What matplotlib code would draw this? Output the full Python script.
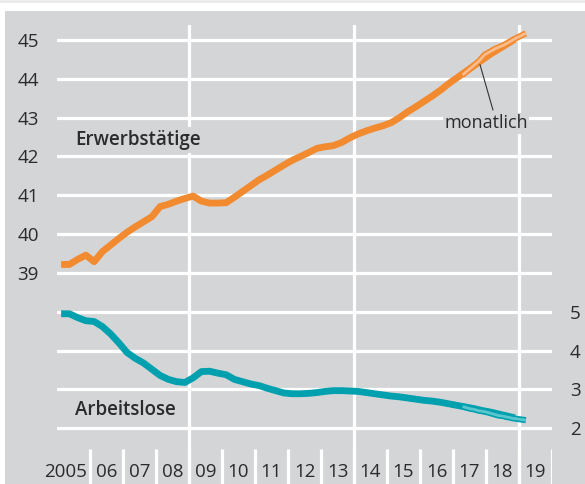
import numpy as np
import matplotlib
matplotlib.use("Agg")
import matplotlib.pyplot as plt
from matplotlib.patches import Rectangle

plt.rcParams['font.family'] = ['Open Sans', 'DejaVu Sans']

# ---- data (millions) ----
# quarterly, 2005Q1 .. 2018Q4
erwerbstaetige_q = [
    39.22, 39.22, 39.35, 39.46,
    39.29, 39.55, 39.72, 39.89,
    40.05, 40.19, 40.32, 40.45,
    40.71, 40.77, 40.85, 40.92,
    40.98, 40.85, 40.80, 40.80,
    40.81, 40.95, 41.10, 41.25,
    41.40, 41.52, 41.65, 41.78,
    41.90, 42.00, 42.10, 42.21,
    42.25, 42.28, 42.36, 42.48,
    42.58, 42.66, 42.73, 42.79,
    42.87, 43.00, 43.15, 43.28,
    43.42, 43.56, 43.71, 43.88,
    44.03, 44.18, 44.33, 44.48,
    44.63, 44.76, 44.89, 45.02,
]
arbeitslose_q = [
    4.95, 4.95, 4.85, 4.77,
    4.75, 4.62, 4.43, 4.20,
    3.95, 3.80, 3.68, 3.52,
    3.36, 3.26, 3.20, 3.18,
    3.30, 3.46, 3.47, 3.42,
    3.38, 3.26, 3.20, 3.14,
    3.10, 3.03, 2.97, 2.91,
    2.89, 2.89, 2.90, 2.92,
    2.95, 2.97, 2.97, 2.96,
    2.95, 2.92, 2.89, 2.86,
    2.83, 2.81, 2.78, 2.75,
    2.72, 2.70, 2.67, 2.63,
    2.59, 2.55, 2.51, 2.46,
    2.42, 2.37, 2.32, 2.27,
]
# monthly, 2017-04 .. 2019-03
erwerbstaetige_m = [
    44.10, 44.16, 44.22, 44.28, 44.34, 44.40, 44.46, 44.54, 44.62,
    44.66, 44.70, 44.74, 44.78, 44.81, 44.84, 44.87, 44.91, 44.95,
    44.99, 45.03, 45.07, 45.10, 45.14, 45.17,
]
arbeitslose_m = [
    2.56, 2.54, 2.52, 2.50, 2.49, 2.47, 2.45, 2.44, 2.43,
    2.41, 2.39, 2.37, 2.35, 2.33, 2.32, 2.31, 2.29, 2.28,
    2.26, 2.25, 2.24, 2.23, 2.22, 2.21,
]
year_labels = ["2005", "06", "07", "08", "09", "10", "11", "12",
               "13", "14", "15", "16", "17", "18", "19"]
left_ticks = [39, 40, 41, 42, 43, 44, 45]
right_ticks = [2, 3, 4, 5]

t_q = 2005 + (np.arange(len(erwerbstaetige_q)) + 0.5) / 4
t_m = 2017 + (np.arange(len(erwerbstaetige_m)) + 3 + 0.5) / 12

ORANGE = '#F28A30'
ORANGE_L = '#F9BC8C'
TEAL = '#00A0AF'
TEAL_L = '#5CC6CE'
BG = '#D4D5D7'
TXT = '#2B2B2B'

W, H = 585, 484
fig = plt.figure(figsize=(W / 100, H / 100), dpi=100, facecolor='white')
fig.patches.append(Rectangle((0, 1 - 3 / H), 1, 3 / H, transform=fig.transFigure,
                             facecolor='#EBEBED', edgecolor='none', zorder=-10))
fig.patches.append(Rectangle((5 / W, 0), 1 - 5 / W, (H - 11) / H, transform=fig.transFigure,
                             facecolor=BG, edgecolor='none', zorder=-10))

ax = fig.add_axes([57 / W, 0, (552 - 57) / W, (H - 25) / H])
ax.set_facecolor('none')
ax.set_zorder(1)
ppu = 38.83
ymax = 45 + 15 / ppu
ymin = 45 - (484 - 40) / ppu
ax.set_ylim(ymin, ymax)
ax.set_xlim(2005, 2020)
for s in ax.spines.values():
    s.set_visible(False)

# gridlines
for v in range(35, 46):
    ax.axhline(v, color='white', lw=2.3, zorder=1)
for yr in [2009, 2014, 2019]:
    ax.axvline(yr, color='white', lw=2.3, zorder=1)
sep_frac = (484 - 449) / (484 - 25)
ax.vlines(np.arange(2006, 2021), 0, sep_frac, transform=ax.get_xaxis_transform(),
          color='white', lw=2.3, zorder=1)
for i, lab in enumerate(year_labels):
    x = 2005 + i + 0.5 if i > 0 else 2005.27
    ax.text(x, 0.026, lab, transform=ax.get_xaxis_transform(), ha='center', va='center',
            fontsize=13.5, color=TXT, zorder=3)

ax.set_yticks(left_ticks)
ax.set_yticklabels([str(v) for v in left_ticks])
ax.set_xticks([])
ax.tick_params(axis='y', length=0, pad=13, labelsize=13.5, labelcolor=TXT)

ax2 = ax.twinx()
ax2.set_ylim(ymin - 33, ymax - 33)
ax2.set_zorder(2)
ax2.patch.set_visible(False)
for s in ax2.spines.values():
    s.set_visible(False)
ax2.set_yticks(right_ticks)
ax2.set_yticklabels([str(v) for v in right_ticks])
ax2.tick_params(axis='y', length=0, pad=13, labelsize=13.5, labelcolor=TXT)

# series
ax.plot(t_q, erwerbstaetige_q, color=ORANGE, lw=4.9, solid_capstyle='butt',
        solid_joinstyle='round', zorder=4)
ax.plot(t_m, erwerbstaetige_m, color=ORANGE, lw=4.4, solid_capstyle='butt', zorder=5)
ax.plot(t_m, erwerbstaetige_m, color=ORANGE_L, lw=2.0, solid_capstyle='butt', zorder=6)

ax2.plot(t_q, arbeitslose_q, color=TEAL, lw=4.9, solid_capstyle='butt',
         solid_joinstyle='round', zorder=4)
ax2.plot(t_m, arbeitslose_m, color=TEAL, lw=4.4, solid_capstyle='butt', zorder=5)
ax2.plot(t_m, arbeitslose_m, color=TEAL_L, lw=2.0, solid_capstyle='butt', zorder=6)

# labels
box = dict(facecolor=BG, edgecolor='none', pad=2)
ax.text(2005.55, 42.42, "Erwerbstätige", fontsize=13.5, fontweight='semibold',
        color=TXT, ha='left', va='center', bbox=box, zorder=3)
ax.text(2005.55, 35.47, "Arbeitslose", fontsize=13.5, fontweight='semibold',
        color=TXT, ha='left', va='center', bbox=box, zorder=3)
ax.plot([2017.82, 2018.21], [44.36, 43.20], color='#333333', lw=0.8, zorder=7)
ax.text(2018.0, 42.85, "monatlich", fontsize=13, color=TXT, ha='center', va='center',
        bbox=dict(facecolor=BG, edgecolor='none', pad=1), zorder=3)

fig.savefig('out.png', dpi=100, facecolor='white')
